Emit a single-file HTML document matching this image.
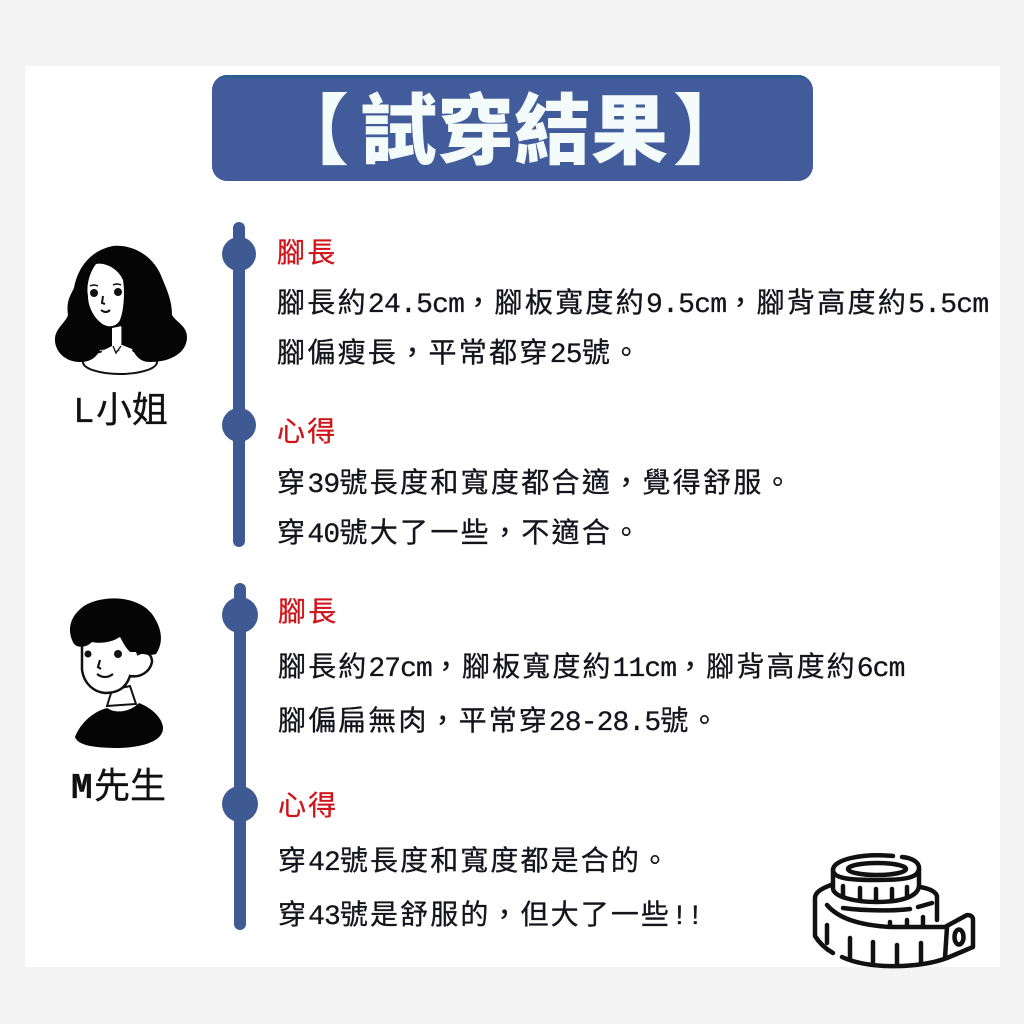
<!DOCTYPE html>
<html><head><meta charset="utf-8"><style>
html,body{margin:0;padding:0;width:1024px;height:1024px;overflow:hidden;background:#f3f3f3}
#card{position:absolute;left:25px;top:66px;width:975px;height:901px;background:#fff}
#title{position:absolute;left:212px;top:75px;width:601px;height:106px;background:#425b9a;border-radius:15px;overflow:hidden}
#title i{position:absolute;left:0;top:0;width:100%;height:3px;background:#2b5f92}
.t{position:absolute;white-space:nowrap;font-family:"Noto Sans CJK TC","Noto Sans CJK SC",sans-serif;font-size:28px;letter-spacing:2.3px;color:#14141c;line-height:36px;font-weight:400;-webkit-text-stroke:.3px #14141c}
.s2{letter-spacing:2.1px}
.m{font-family:"Liberation Mono",monospace;font-size:28px;letter-spacing:-.75px;color:#14141c}
.s2 .m{letter-spacing:-.9px}
.r,.r .m{color:#d0141c;-webkit-text-stroke:.3px #d0141c}
.h{position:absolute;white-space:nowrap;font-family:"Noto Sans CJK TC",sans-serif;font-weight:900;color:#f4fbfb;font-size:77px;line-height:100px;top:76px;left:0;letter-spacing:0}
.n{position:absolute;white-space:nowrap;font-family:"Noto Sans CJK TC",sans-serif;font-size:36px;letter-spacing:0;line-height:40px;color:#111;font-weight:400;-webkit-text-stroke:.3px #111}
.n span{font-family:"Liberation Mono",monospace;font-size:36px;letter-spacing:1.4px}
svg{position:absolute;left:0;top:0}
</style></head><body>
<div id="card"></div>
<div id="title"><i></i></div>
<div class="h" style="left:272px">【</div>
<div class="h" style="left:360px">試穿結果</div>
<div class="h" style="left:673px">】</div>
<svg width="1024" height="1024" viewBox="0 0 1024 1024">
 <g fill="#3f5a92">
  <rect x="233" y="222" width="12" height="325" rx="6"/>
  <circle cx="239" cy="254" r="17"/><circle cx="239" cy="425" r="17"/>
  <rect x="234" y="583" width="12" height="347" rx="6"/>
  <circle cx="240" cy="615" r="18"/><circle cx="240" cy="804" r="18"/>
 </g>
 <!-- L -->
 <ellipse cx="120" cy="362" rx="37" ry="12" fill="#fff" stroke="#111" stroke-width="2"/>
 <path d="M113 246C135 244 155 258 162 278C168 292 172 302 172 315C176 322 187 326 187 337C187 352 172 362 150 362C140 362 136 356 132 349L122 347 112 349 100 350C96 358 90 362 80 362C64 362 54 350 55 338C56 328 66 322 68 315C66 302 70 296 74 288C78 266 92 250 113 246Z" fill="#050505"/>
 <path d="M96 264C104 262 118 268 123 280C125 292 124 310 120 320C116 328 106 328 100 322C93 316 88 306 88 296C86 284 90 272 96 264Z" fill="#fff"/>
 <circle cx="94" cy="293" r="4" fill="#111"/><circle cx="118" cy="292" r="4" fill="#111"/>
 <path d="M90 286q4-2 8 0M113 285q4-2 8 0" fill="none" stroke="#111" stroke-width="1.5"/>
 <path d="M103 296l-1 7 3 1M101 310q5 4 9 0" fill="none" stroke="#111" stroke-width="2"/>
 <path d="M112 328V346L102 351 100 358 114 352 118 350 122 352 134 358 132 349 122 345V326Z" fill="#fff"/>
 <path d="M122 326V345M113 346l3 7 5-7" fill="none" stroke="#111" stroke-width="1.3"/>
 <!-- M -->
 <path d="M112 690L107 706 136 704 130 686Z" fill="#fff" stroke="#111" stroke-width="2"/>
 <path d="M75 737C80 724 92 712 107 708C116 714 130 712 139 703C152 708 162 718 163 727C164 740 146 747 120 748C96 748 78 746 75 737Z" fill="#050505"/>
 <path d="M82 645V670C84 684 94 692 105 693C118 693 126 688 130 676C140 678 150 672 152 662C152 654 146 650 138 654L130 630H90Z" fill="#fff" stroke="#111" stroke-width="2.5"/>
 <path d="M74 644C66 630 70 616 84 606C104 594 138 596 152 614C162 628 164 642 156 654C150 656 142 654 136 652L130 652C124 646 122 640 120 637C112 642 102 644 92 642C86 648 78 648 74 644Z" fill="#050505"/>
 <circle cx="88" cy="654" r="3.5" fill="#111"/><circle cx="118" cy="654" r="4" fill="#111"/>
 <path d="M100 660l-2 7 3 2M97 674q8 6 16 0" fill="none" stroke="#111" stroke-width="2.2"/>
 <!-- tape -->
 <g fill="none" stroke="#111" stroke-width="4.5" stroke-linecap="round" stroke-linejoin="round">
  <path d="M893 856C860 853 833 860 833 870C833 880 858 880 877 880C905 880 919 878 919 868C919 862 912 858 902 857"/>
  <ellipse cx="877" cy="869" rx="29" ry="6"/>
  <path d="M833 870V888C833 897 855 902 877 902C900 902 919 897 919 885V868"/>
  <path d="M843 886v11M860 888v12M876 889v12M892 889v11M907 887v10"/>
  <path d="M831 885C820 889 815 893 815 898V936C820 944 826 949 833 953"/>
  <path d="M920 887C932 889 937 893 937 897V920"/>
  <path d="M827 905C838 918 858 925 890 927L945 927L967 915Q973 915 973 920V947L947 958C920 968 870 970 842 957"/>
  <path d="M843 908C865 911 895 911 910 909M918 907l14-4"/>
  <path d="M947 927L945 958M827 925v18M850 938v20M873 942v20M897 945v20M921 943v20M890 922v4M907 920v5M923 917v8"/>
  <ellipse cx="959" cy="937" rx="4.5" ry="7.5"/>
 </g>
</svg>
<div class="n" style="left:73px;top:387px"><span>L</span>小姐</div>
<div class="n" style="left:71px;top:763px"><span style="font-weight:700">M</span>先生</div>

<div class="t r" style="left:277px;top:233px">腳長</div>
<div class="t" style="left:277px;top:283px">腳長約<span class="m">24.5cm</span>，腳板寬度約<span class="m">9.5cm</span>，腳背高度約<span class="m">5.5cm</span></div>
<div class="t" style="left:277px;top:333px">腳偏瘦長，平常都穿<span class="m">25</span>號。</div>
<div class="t r" style="left:277px;top:412px">心得</div>
<div class="t" style="left:277px;top:463px">穿<span class="m">39</span>號長度和寬度都合適，覺得舒服。</div>
<div class="t" style="left:277px;top:513px">穿<span class="m">40</span>號大了一些，不適合。</div>

<div class="t r s2" style="left:278px;top:592px">腳長</div>
<div class="t s2" style="left:278px;top:647px">腳長約<span class="m">27cm</span>，腳板寬度約<span class="m">11cm</span>，腳背高度約<span class="m">6cm</span></div>
<div class="t s2" style="left:278px;top:701px">腳偏扁無肉，平常穿<span class="m">28-28.5</span>號。</div>
<div class="t r s2" style="left:278px;top:786px">心得</div>
<div class="t s2" style="left:278px;top:841px">穿<span class="m">42</span>號長度和寬度都是合的。</div>
<div class="t s2" style="left:278px;top:895px">穿<span class="m">43</span>號是舒服的，但大了一些<span class="m">!!</span></div>
</body></html>
